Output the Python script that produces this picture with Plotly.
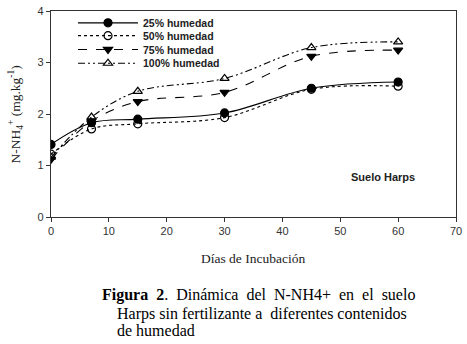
import plotly.graph_objects as go

dias = [0, 7, 15, 30, 45, 60]
h25 = [1.41, 1.83, 1.90, 2.02, 2.50, 2.62]
h50 = [1.22, 1.71, 1.81, 1.93, 2.48, 2.54]
h75 = [1.12, 1.86, 2.24, 2.42, 3.12, 3.24]
h100 = [1.16, 1.94, 2.44, 2.69, 3.29, 3.40]

series = [
    ("25% humedad", h25, "solid", "circle"),
    ("50% humedad", h50, "dot", "circle-open"),
    ("75% humedad", h75, "dash", "triangle-down"),
    ("100% humedad", h100, "7px,3px,2px,3px,2px,3px", "triangle-up-open"),
]

# legend row centres (pixels from top)
legend_rows = [20, 33, 47, 61]
legend_names = ["legend", "legend2", "legend3", "legend4"]

fig = go.Figure()
for (name, vals, dash, sym), lg in zip(series, legend_names):
    fig.add_trace(go.Scatter(
        x=dias, y=vals, name="<b>" + name + "</b>", mode="lines+markers", legend=lg,
        line=dict(color="black", width=1.1, dash=dash, shape="spline", smoothing=1.0),
        marker=dict(symbol=sym, size=8, color="black", line=dict(color="black", width=1.2)),
    ))

fig.add_annotation(x=57.4, y=0.77, xref="x", yref="y", text="<b>Suelo Harps</b>",
                   showarrow=False, font=dict(family="Arial, Liberation Sans", size=11, color="#222"))

serif = "Liberation Serif, Times New Roman, serif"
fig.add_annotation(x=(253 - 51) / 405, y=-(259 - 217) / 209, xref="paper", yref="paper",
                   text="Días de Incubación", showarrow=False,
                   xanchor="center", yanchor="middle",
                   font=dict(family=serif, size=13.5, color="#222"))
fig.add_annotation(x=-(51 - 16) / 405, y=(217 - 113) / 209, xref="paper", yref="paper",
                   text="N-NH<sub>4</sub><sup>+</sup> (mg.kg<sup>-1</sup>)", showarrow=False,
                   xanchor="center", yanchor="middle",
                   textangle=-90, font=dict(family=serif, size=13.5, color="#222"))

caption = [
    ("<b>Figura  2</b>.  Dinámica  del  N-NH4+  en  el  suelo", 100, 296),
    ("Harps sin fertilizante a  diferentes contenidos", 115, 315),
    ("de humedad", 115, 332),
]
for txt, px, py in caption:
    fig.add_annotation(x=(px - 51) / 405, y=-(py - 217) / 209, xref="paper", yref="paper",
                       text=txt, showarrow=False, xanchor="left", yanchor="middle",
                       font=dict(family=serif, size=16, color="black"))

axis_common = dict(showgrid=False, zeroline=False, showline=True, linecolor="#333",
                   linewidth=1.2, mirror=True, ticks="outside", ticklen=4, tickcolor="#333",
                   automargin=False,
                   tickfont=dict(family="Arial, Liberation Sans", size=11, color="#333"))
fig.update_xaxes(range=[0, 70], tickvals=[0, 10, 20, 30, 40, 50, 60, 70], **axis_common)
fig.update_yaxes(range=[0, 4], tickvals=[0, 1, 2, 3, 4], **axis_common)

legend_style = dict(xanchor="left", yanchor="middle", bgcolor="rgba(0,0,0,0)",
                    font=dict(family="Arial, Liberation Sans", size=10.5, color="#222"),
                    itemwidth=60)
layout_legends = {}
for lg, row in zip(legend_names, legend_rows):
    layout_legends[lg] = dict(x=(73 - 51) / 405, y=(217 - row) / 209, **legend_style)

fig.update_layout(
    width=467, height=344,
    margin=dict(l=51, r=11, t=8, b=127),
    paper_bgcolor="white", plot_bgcolor="white",
    showlegend=True,
    **layout_legends,
)
fig.write_html("out.html", config={"displayModeBar": False},
               post_script="document.body.style.margin='0';document.body.style.overflow='hidden';")
